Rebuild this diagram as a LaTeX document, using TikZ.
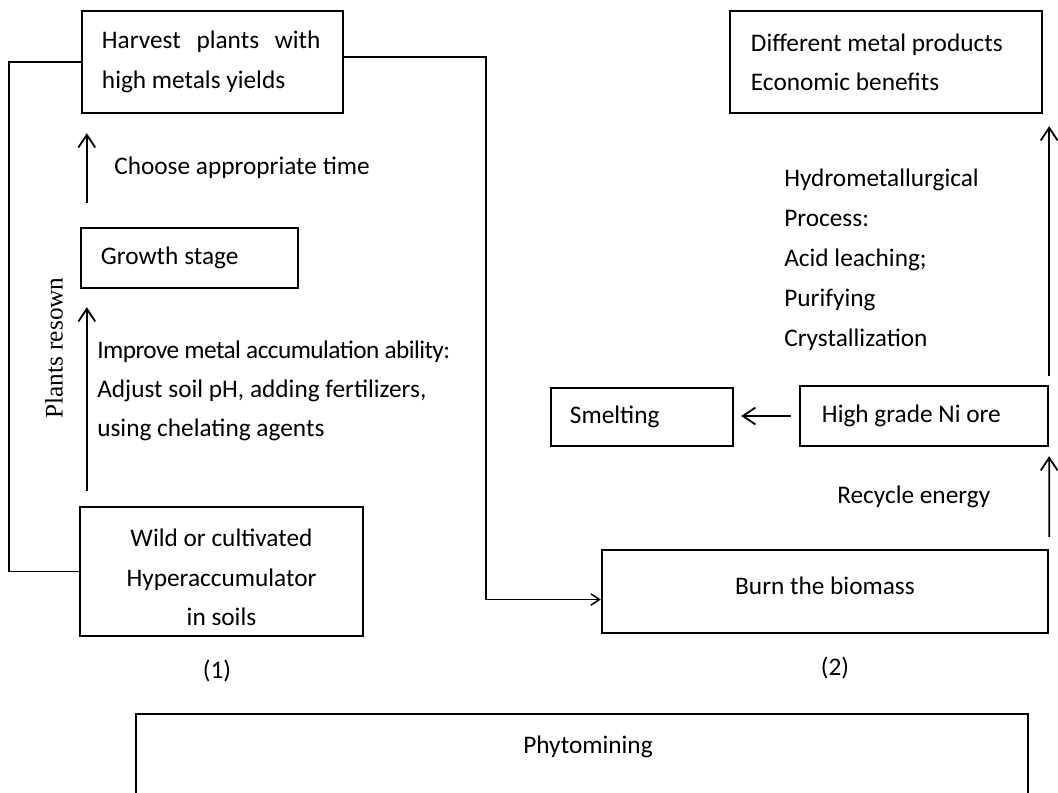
\documentclass[tikz,border=0pt]{standalone}
\usepackage{fontspec}
\setmainfont{Carlito}
\newfontfamily\resownfont{Liberation Serif}
\usetikzlibrary{arrows.meta, positioning}

\tikzset{
  stagebox/.style={draw, line width=1.6pt, inner sep=0pt, align=flush left},
  note/.style={inner sep=0pt, anchor=west, align=flush left},
  flow/.style={line width=1.3pt, -{Straight Barb[length=9pt, width=12pt, line width=1.3pt]}},
  link/.style={line width=1.1pt},
}

\begin{document}
\begin{tikzpicture}[x=0.025cm, y=-0.025cm, font=\fontsize{18}{28}\selectfont]
  \useasboundingbox (0,0) rectangle (1058,792);
  \clip (0,0) rectangle (1058,792);

  % Part (1): growing the hyperaccumulator
  \node[stagebox, minimum width=6.525cm, minimum height=2.55cm, text width=5.525cm] (harvest) at (212.5,62) {Harvest\kern0.62em plants\kern0.62em with\\high metals yields};
  \node[stagebox, minimum width=5.425cm, minimum height=1.5cm, text width=4.425cm] (growth) at (189.5,258) {Growth stage};
  \node[stagebox, align=center, minimum width=7.075cm, minimum height=3.225cm] (wild) at (221.5,571.5) {\rule{0pt}{21pt}Wild or cultivated\\Hyperaccumulator\\in soils};

  \draw[flow, shorten <=0.6cm, shorten >=0.475cm] ([xshift=0.175cm]growth.north west) -- ([xshift=0.175cm]growth.north west |- harvest.south);
  \draw[flow, shorten <=0.375cm, shorten >=0.45cm] ([xshift=0.2cm]wild.north west) -- ([xshift=0.2cm]wild.north west |- growth.south);

  \node[note] (choose) at (114,168) {Choose appropriate time};
  \node[note] (improve) at (97,391) {{\addfontfeature{LetterSpace=-2.2}Improve metal accumulation ability:}\\Adjust soil pH, adding fertilizers,\\using chelating agents};
  \node[rotate=90, inner sep=0pt, font=\resownfont\fontsize{18}{22}\selectfont] (resown) at (54,348) {Plants resown};

  % loop back to harvest
  \coordinate (loopleft) at (9,0);
  \draw[link] (wild.west) -- (wild.west -| loopleft) |- (harvest.west);

  % Part (2): processing the biomass
  \node[stagebox, minimum width=7.8cm, minimum height=2.55cm, text width=6.75cm] (products) at (886,62) {Different metal products\\Economic benefits};
  \node[stagebox, minimum width=6.2cm, minimum height=1.5cm, text width=5.1cm] (ore) at (924,416) {High grade Ni ore};
  \node[stagebox, minimum width=4.55cm, minimum height=1.45cm, text width=3.6cm] (smelting) at (642,417) {Smelting};
  \node[stagebox, align=center, minimum width=11.15cm, minimum height=2.075cm] (burn) at (825,591.5) {Burn the biomass\rule[-8.5pt]{0pt}{8.5pt}};

  \coordinate (loopright) at (486,0);
  \draw[link, -{Straight Barb[length=6pt, width=8pt, line width=1.1pt]}] ([yshift=0.125cm]harvest.east) -- ([yshift=0.125cm]harvest.east -| loopright) |- ([yshift=-0.2cm]burn.west);

  \draw[flow, shorten <=0.3cm, shorten >=0.225cm] (burn.north east) -- (ore.south east);
  \draw[flow, shorten <=0.225cm, shorten >=0.3cm] (ore.north east) -- (ore.north east |- products.south);
  \draw[flow, shorten <=0.2cm, shorten >=0.175cm] (ore.west) -- (ore.west -| smelting.east);

  \node[note] (recycle) at (837,497) {Recycle energy};
  \node[note, font=\fontsize{18}{28.4}\selectfont] (hydro) at (784,260) {Hydrometallurgical\\Process:\\Acid leaching;\\Purifying\\Crystallization};

  \node (one) at (217,671) {(1)};
  \node (two) at (835,668) {(2)};

  % Overall frame
  \node[draw, line width=1.6pt, anchor=north, minimum width=22.3cm, minimum height=5cm] (frame) at (582,713) {};
  \node (phyto) at (588,747) {Phytomining};
\end{tikzpicture}
\end{document}
